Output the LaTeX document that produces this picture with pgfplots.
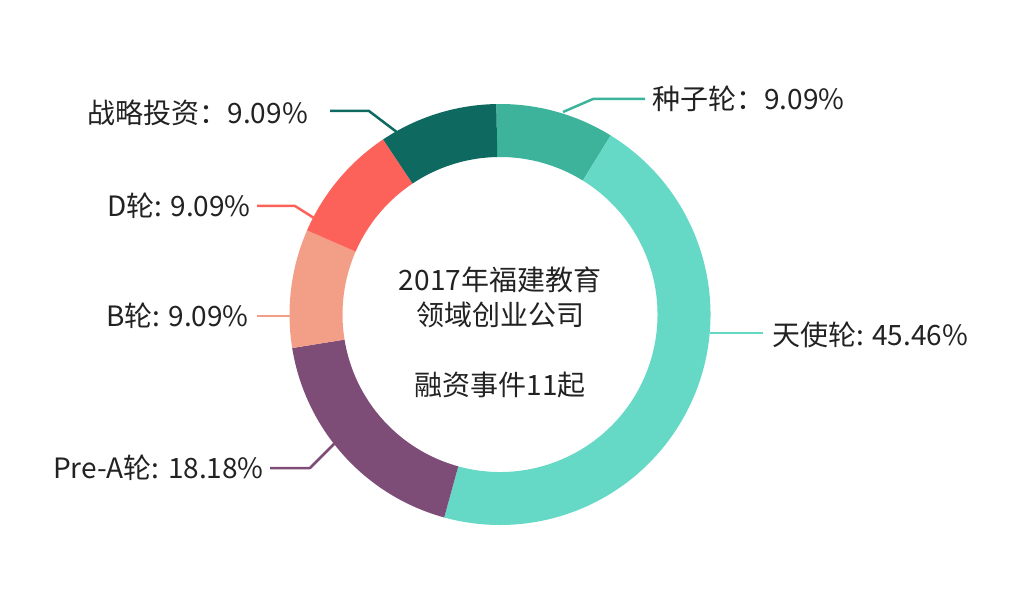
\documentclass[border=0pt]{standalone}
\usepackage{pgfplots}
\pgfplotsset{compat=1.18}
\usepackage{pgfplotstable}
\usepackage{fontspec}
\setmainfont{Noto Sans CJK SC}

\definecolor{seed}{HTML}{3EB39C}
\definecolor{angel}{HTML}{66D9C6}
\definecolor{prea}{HTML}{7D4D78}
\definecolor{bround}{HTML}{F39E86}
\definecolor{dround}{HTML}{FC625A}
\definecolor{strat}{HTML}{0E6A60}
\definecolor{txt}{HTML}{222222}

% share of financing events (%), clockwise from the top
\pgfplotstableread{
share colour
9.09  seed
45.46 angel
18.18 prea
9.09  bround
9.09  dround
9.09  strat
}\rounds

\begin{document}
\begin{tikzpicture}
\begin{axis}[
  x=1pt, y=1pt,
  xmin=0, xmax=1016, ymin=0, ymax=606,
  scale only axis, hide axis, clip=false,
]
\path (axis cs:0,0) rectangle (axis cs:1016,606);

\def\cx{500}\def\cy{291.5}
\def\Ro{210.5}\def\Ri{157.5}\def\ring{53}
\xdef\astart{91}
\pgfplotsforeachungrouped \i in {0,...,5}{%
  \pgfplotstablegetelem{\i}{share}\of\rounds
  \pgfmathsetmacro\aend{\astart-3.6*\pgfplotsretval}%
  \pgfmathsetmacro\aback{\aend+180}%
  \pgfplotstablegetelem{\i}{colour}\of\rounds
  \edef\slice{\noexpand\fill[\pgfplotsretval] (axis cs:\cx,\cy) ++(\astart:\Ro pt)
    arc[start angle=\astart, end angle=\aend, radius=\Ro pt]
    -- ++(\aback:\ring pt)
    arc[start angle=\aend, end angle=\astart, radius=\Ri pt] -- cycle;}%
  \slice
  \xdef\astart{\aend}%
}

% leader lines
\tikzset{lead/.style={line width=2.5pt, line join=round}}
\draw[lead, seed]   (axis cs:563,494) -- (axis cs:593,507) -- (axis cs:645,507);
\draw[lead, angel]  (axis cs:710,273) -- (axis cs:763,273);
\draw[lead, prea]   (axis cs:336,164) -- (axis cs:310,138) -- (axis cs:270,138);
\draw[lead, bround] (axis cs:293,290) -- (axis cs:257,290);
\draw[lead, dround] (axis cs:314,388) -- (axis cs:295,400) -- (axis cs:257,400);
\draw[lead, strat]  (axis cs:398,473) -- (axis cs:369,495) -- (axis cs:330,495);

% labels
\tikzset{lab/.style={inner sep=0pt, text=txt, font=\fontsize{28}{34}\selectfont}}
\node[lab, anchor=west] at (axis cs:652,507) {种子轮：9.09\%};
\node[lab, anchor=west] at (axis cs:772,271) {天使轮: 45.46\%};
\node[lab, anchor=east] at (axis cs:264,138) {Pre-A轮: 18.18\%};
\node[lab, anchor=east] at (axis cs:249,290) {B轮: 9.09\%};
\node[lab, anchor=east] at (axis cs:251,400) {D轮: 9.09\%};
\node[lab, anchor=east] at (axis cs:308,493) {战略投资：9.09\%};

% centre text
\node[lab] at (axis cs:500,326) {2017年福建教育};
\node[lab] at (axis cs:500,291) {领域创业公司};
\node[lab] at (axis cs:500,221) {融资事件11起};
\end{axis}
\end{tikzpicture}
\end{document}
